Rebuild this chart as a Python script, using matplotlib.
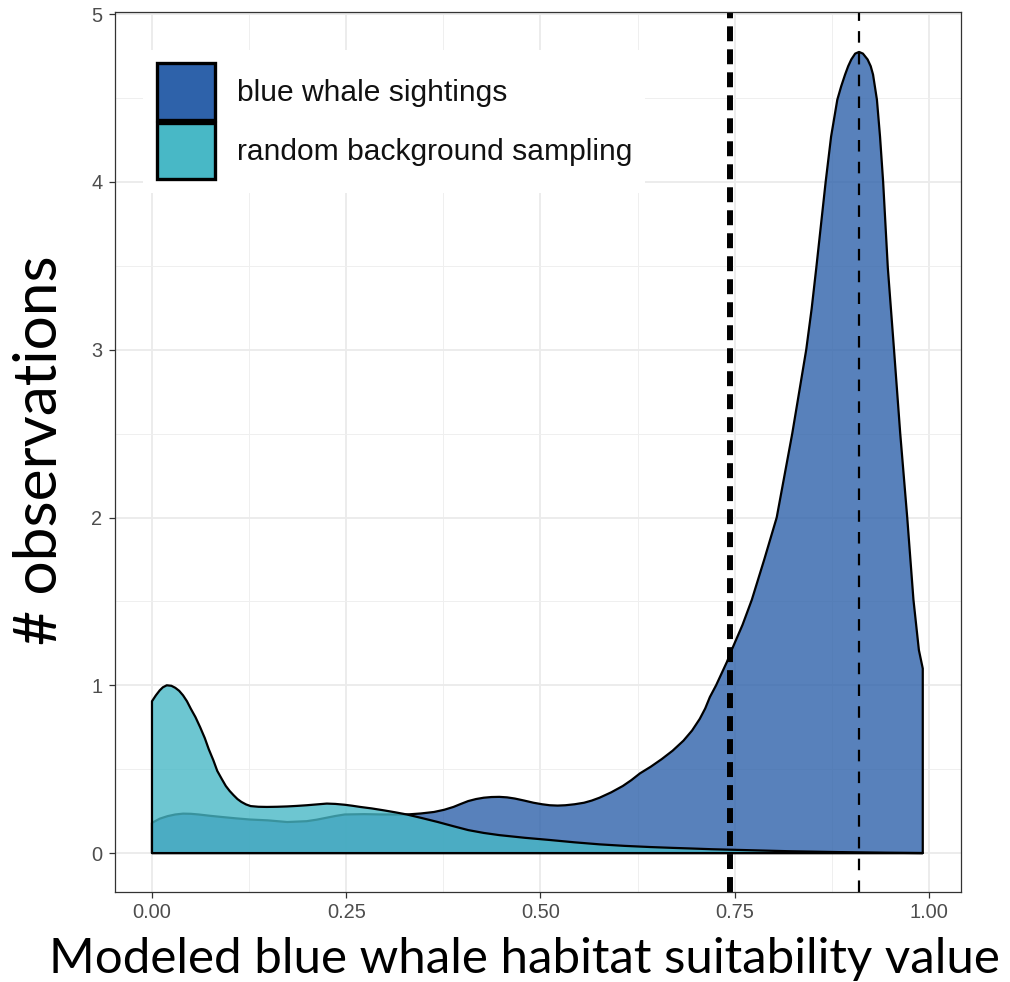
import matplotlib
matplotlib.use("Agg")
import matplotlib.pyplot as plt
from matplotlib.patches import Patch
from matplotlib.ticker import MultipleLocator
import numpy as np

# ---------------- data ----------------
series_names = ["blue whale sightings", "random background sampling"]

sight_x = [0.0, 0.01, 0.02, 0.03, 0.04, 0.05, 0.06, 0.075, 0.09, 0.108, 0.126,
           0.149, 0.174, 0.199, 0.212, 0.224, 0.236, 0.248, 0.273, 0.298, 0.328,
           0.346, 0.363, 0.376, 0.388, 0.397, 0.407, 0.417, 0.427, 0.437, 0.447,
           0.457, 0.467, 0.479, 0.491, 0.502, 0.512, 0.522, 0.532, 0.544, 0.556,
           0.566, 0.576, 0.591, 0.606, 0.617, 0.628, 0.642, 0.656, 0.670, 0.684,
           0.695, 0.705, 0.712, 0.718, 0.726, 0.733, 0.740, 0.746, 0.753, 0.760,
           0.766, 0.772, 0.780, 0.788, 0.796, 0.804, 0.814, 0.824, 0.833, 0.842,
           0.849, 0.855, 0.861, 0.867, 0.874, 0.882, 0.887, 0.892, 0.896, 0.900,
           0.905, 0.910, 0.915, 0.921, 0.925, 0.928, 0.933, 0.937, 0.941, 0.947,
           0.955, 0.963, 0.972, 0.980, 0.987, 0.992]
sight_y = [0.18, 0.205, 0.22, 0.23, 0.235, 0.234, 0.23, 0.222, 0.215, 0.207, 0.20,
           0.195, 0.185, 0.19, 0.199, 0.21, 0.221, 0.23, 0.232, 0.23, 0.23,
           0.236, 0.245, 0.258, 0.275, 0.292, 0.31, 0.322, 0.33, 0.334, 0.335,
           0.332, 0.325, 0.313, 0.30, 0.291, 0.285, 0.283, 0.285, 0.291, 0.30,
           0.313, 0.33, 0.362, 0.40, 0.435, 0.475, 0.515, 0.56, 0.61, 0.67,
           0.73, 0.80, 0.862, 0.93, 1.0, 1.07, 1.14, 1.21, 1.285, 1.36,
           1.435, 1.51, 1.63, 1.75, 1.875, 2.0, 2.25, 2.5, 2.75, 3.0,
           3.245, 3.49, 3.745, 4.0, 4.27, 4.49, 4.57, 4.64, 4.69, 4.73,
           4.765, 4.775, 4.765, 4.73, 4.69, 4.64, 4.49, 4.27, 4.0, 3.49,
           3.0, 2.5, 2.0, 1.51, 1.21, 1.10]

bg_x = [0.0, 0.005, 0.01, 0.014, 0.019, 0.025, 0.03, 0.035, 0.04, 0.045, 0.05,
        0.056, 0.062, 0.068, 0.073, 0.079, 0.084, 0.09, 0.095, 0.1, 0.105,
        0.11, 0.115, 0.121, 0.127, 0.137, 0.148, 0.161, 0.174, 0.186, 0.199,
        0.212, 0.225, 0.236, 0.248, 0.258, 0.268, 0.283, 0.298, 0.313, 0.328,
        0.348, 0.368, 0.388, 0.407, 0.427, 0.447, 0.48, 0.512, 0.544, 0.576,
        0.608, 0.641, 0.67, 0.696, 0.72, 0.745, 0.77, 0.795, 0.82, 0.845,
        0.87, 0.895, 0.92, 0.945, 0.97, 0.992]
bg_y = [0.905, 0.94, 0.97, 0.988, 1.0, 0.997, 0.985, 0.967, 0.94, 0.905, 0.86,
        0.81, 0.75, 0.685, 0.62, 0.553, 0.49, 0.44, 0.40, 0.37, 0.345,
        0.322, 0.305, 0.29, 0.28, 0.276, 0.275, 0.276, 0.278, 0.281, 0.285,
        0.29, 0.295, 0.293, 0.288, 0.282, 0.275, 0.266, 0.255, 0.243, 0.23,
        0.208, 0.185, 0.16, 0.137, 0.12, 0.107, 0.091, 0.078, 0.064, 0.052,
        0.043, 0.036, 0.031, 0.027, 0.023, 0.02, 0.017, 0.014, 0.011, 0.009,
        0.007, 0.005, 0.0035, 0.002, 0.001, 0.0]

vline_x = [0.744, 0.910]          # thick dashed, thin dashed
x_ticks = [0.00, 0.25, 0.50, 0.75, 1.00]
x_tick_labels = ["0.00", "0.25", "0.50", "0.75", "1.00"]
y_ticks = [0, 1, 2, 3, 4, 5]
y_tick_labels = ["0", "1", "2", "3", "4", "5"]
x_title = "Modeled blue whale habitat suitability value"
y_title = "# observations"

# ---------------- style ----------------
col_sight = "#2E62AA"
col_bg = "#48B8C6"
fill_alpha = 0.8
W, H, DPI = 1010, 982, 100

plt.rcParams["font.family"] = ["Liberation Sans", "DejaVu Sans"]
fig = plt.figure(figsize=(W / DPI, H / DPI), dpi=DPI)
fig.patch.set_facecolor("white")

# axes position in pixels: left 115, right 961, top 12, bottom 892
ax = fig.add_axes([115 / W, (H - 892) / H, (961 - 115) / W, (892 - 12) / H])
ax.set_facecolor("white")
ax.set_xlim(-0.0476, 1.0412)
ax.set_ylim(-0.232, 5.013)

# grid
ax.xaxis.set_major_locator(plt.FixedLocator(x_ticks))
ax.yaxis.set_major_locator(plt.FixedLocator(y_ticks))
ax.xaxis.set_minor_locator(MultipleLocator(0.125))
ax.yaxis.set_minor_locator(MultipleLocator(0.5))
ax.grid(which="major", color="#EBEBEB", linewidth=1.3, zorder=0)
ax.grid(which="minor", color="#EFEFEF", linewidth=0.7, zorder=0)
ax.set_axisbelow(True)
ax.tick_params(which="minor", length=0)

# densities as closed polygons
for xs, ys, col, z in [(sight_x, sight_y, col_sight, 2), (bg_x, bg_y, col_bg, 3)]:
    px = np.concatenate([[xs[0]], xs, [xs[-1]]])
    py = np.concatenate([[0.0], ys, [0.0]])
    ax.fill(px, py, facecolor=matplotlib.colors.to_rgba(col, fill_alpha),
            edgecolor="black", linewidth=1.6, joinstyle="round", zorder=z)

# dashed vertical lines
ax.axvline(vline_x[0], color="black", linewidth=4.3, dashes=(2.5, 1.35), zorder=5)
ax.axvline(vline_x[1], color="black", linewidth=1.6, dashes=(5.2, 4.6), zorder=5)

# spines / ticks
for s in ax.spines.values():
    s.set_color("#333333")
    s.set_linewidth(0.9)
    s.set_zorder(6)
ax.set_xticks(x_ticks)
ax.set_xticklabels(x_tick_labels)
ax.set_yticks(y_ticks)
ax.set_yticklabels(y_tick_labels)
ax.tick_params(which="major", length=4, width=0.9, color="#333333",
               labelcolor="#4D4D4D", labelsize=14.4)
ax.tick_params(axis="x", pad=4)
ax.tick_params(axis="y", pad=5)

# legend
handles = [Patch(facecolor=col_sight, edgecolor="black", linewidth=2.4),
           Patch(facecolor=col_bg, edgecolor="black", linewidth=2.4)]
leg = ax.legend(handles, series_names, loc="upper left",
                bbox_to_anchor=((143 - 115) / 846, (892 - 50) / 880),
                borderaxespad=0, fontsize=21.6, frameon=True, fancybox=False,
                framealpha=1, edgecolor="none", facecolor="white",
                handlelength=1.95, handleheight=2.5, labelspacing=0.12,
                handletextpad=0.72, borderpad=0.45)
leg.set_zorder(7)
for t in leg.get_texts():
    t.set_color("#111111")

# axis titles (Calibri-like, sized to fit the reference extents)
title_font = ["Lato", "DejaVu Sans"]
xt = fig.text(524 / W, 1 - 959 / H, x_title, ha="center", va="center",
              fontsize=30, family=title_font, color="black")
yt = fig.text(40 / W, 1 - 450 / H, y_title, ha="center", va="center",
              rotation=90, fontsize=30, family=title_font, color="black")
fig.canvas.draw()
r = fig.canvas.get_renderer()
wx = xt.get_window_extent(r).width
xt.set_fontsize(30 * 951 / wx)
wy = yt.get_window_extent(r).height
yt.set_fontsize(30 * 390 / wy)

fig.savefig("out.png", dpi=DPI, facecolor="white")
